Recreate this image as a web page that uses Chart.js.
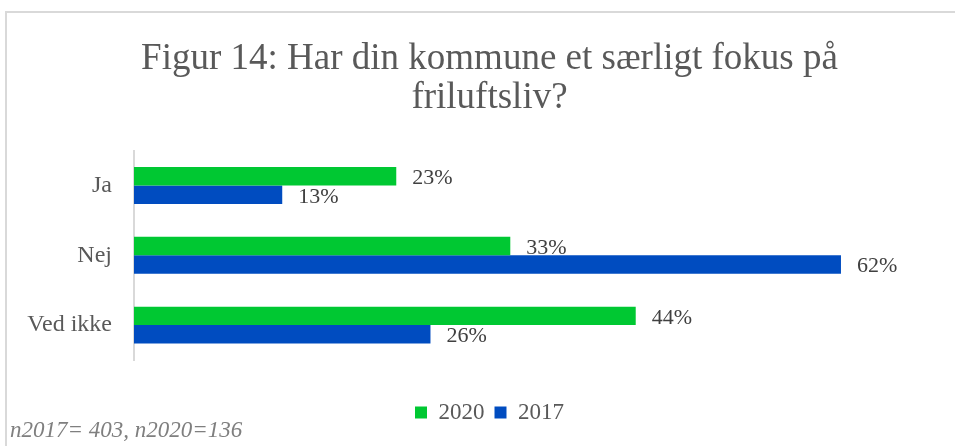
<!DOCTYPE html>
<html>
<head>
<meta charset="utf-8">
<script src="https://cdn.jsdelivr.net/npm/chart.js@4"></script>
<style>
  html, body { margin: 0; padding: 0; background: #fff; }
  #wrap { position: relative; width: 955px; height: 446px; overflow: hidden; }
  #frame { position: absolute; left: 5px; top: 11px; width: 1000px; height: 500px;
           border-top: 2px solid #d9d9d9; border-left: 2px solid #d9d9d9; }
  #chart { position: absolute; left: 0; top: 0; }
  #note { position: absolute; left: 10px; top: 417px; font-family: "Liberation Serif", serif;
          font-style: italic; font-size: 23px; color: #7f7f7f; white-space: nowrap; }
</style>
</head>
<body>
<div id="wrap">
  <div id="frame"></div>
  <canvas id="chart" width="955" height="446"></canvas>
  <div id="note">n2017= 403, n2020=136</div>
</div>
<script>
// chart data
const categories = ['Ja', 'Nej', 'Ved ikke'];
const values2020 = [23, 33, 44];
const values2017 = [13, 62, 26];
const seriesNames = ['2020', '2017'];

// simple value labels drawn right of each bar
const barLabels = {
  id: 'barLabels',
  afterDatasetsDraw(chart) {
    const ctx = chart.ctx;
    ctx.save();
    ctx.font = '22px "Liberation Serif"';
    ctx.fillStyle = '#404040';
    ctx.textAlign = 'left';
    ctx.textBaseline = 'middle';
    chart.data.datasets.forEach((ds, i) => {
      chart.getDatasetMeta(i).data.forEach((bar, j) => {
        ctx.fillText(ds.data[j] + '%', bar.x + 16, bar.y + 2);
      });
    });
    ctx.restore();
  }
};

const ctx = document.getElementById('chart').getContext('2d');
const chart = new Chart(ctx, {
  type: 'bar',
  data: {
    labels: categories,
    datasets: [
      { label: seriesNames[0], data: values2020, backgroundColor: 'rgb(0,200,50)' },
      { label: seriesNames[1], data: values2017, backgroundColor: 'rgb(0,76,192)' }
    ]
  },
  options: {
    indexAxis: 'y',
    responsive: false,
    animation: false,
    categoryPercentage: 0.53,
    barPercentage: 1.0,
    layout: { padding: { left: 24, right: 0, top: 0, bottom: 12 } },
    scales: {
      x: {
        min: 0, max: 72,
        ticks: { display: false },
        grid: { display: false },
        border: { display: false },
        afterFit(scale) { scale.height = 31; }
      },
      y: {
        grid: { display: false, drawTicks: false },
        border: { display: true, color: '#d9d9d9', width: 2 },
        ticks: { padding: 22, color: '#595959', font: { family: 'Liberation Serif', size: 24 } },
        afterFit(scale) { scale.width = 110; }
      }
    },
    plugins: {
      title: {
        display: true,
        text: ['Figur 14: Har din kommune et særligt fokus på', 'friluftsliv?'],
        color: '#595959',
        font: { family: 'Liberation Serif', size: 37, weight: 'normal', lineHeight: 1.05 },
        padding: { top: 40, bottom: 33 }
      },
      legend: {
        position: 'bottom',
        labels: {
          boxWidth: 12, boxHeight: 12, color: '#595959',
          font: { family: 'Liberation Serif', size: 23 }
        }
      },
      tooltip: { enabled: false }
    }
  },
  plugins: [barLabels]
});
</script>
</body>
</html>
